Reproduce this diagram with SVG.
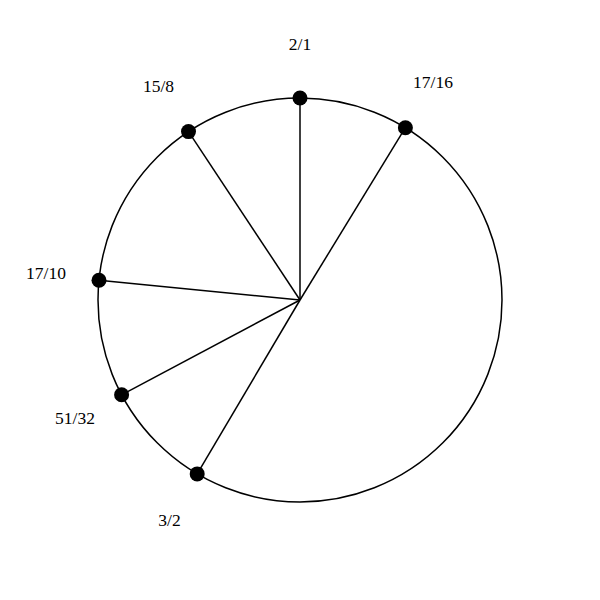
<svg xmlns="http://www.w3.org/2000/svg" width="600" height="600" viewBox="0 0 600 600">
<style>
.ln{stroke:#000;stroke-width:1.5;fill:none}
.dot{fill:#000}
.lb{font-family:"Liberation Serif",serif;font-size:17.5px;text-anchor:middle;fill:#000}
</style>
<rect width="600" height="600" fill="#fff"/>
<circle cx="300" cy="300" r="202" class="ln"/>
<g id="connectors">
<line x1="300" y1="300" x2="300" y2="98" class="ln"/>
<line x1="300" y1="300" x2="405.4" y2="127.7" class="ln"/>
<line x1="300" y1="300" x2="188.5" y2="131.6" class="ln"/>
<line x1="300" y1="300" x2="99" y2="280.3" class="ln"/>
<line x1="300" y1="300" x2="121.6" y2="394.8" class="ln"/>
<line x1="300" y1="300" x2="197.2" y2="473.9" class="ln"/>
</g>
<g id="n21"><circle cx="300" cy="98" r="7.5" class="dot"/><text x="300" y="50" class="lb">2/1</text></g>
<g id="n1716"><circle cx="405.4" cy="127.7" r="7.5" class="dot"/><text x="433" y="88" class="lb">17/16</text></g>
<g id="n158"><circle cx="188.5" cy="131.6" r="7.5" class="dot"/><text x="158.5" y="92" class="lb">15/8</text></g>
<g id="n1710"><circle cx="99" cy="280.3" r="7.5" class="dot"/><text x="46" y="279" class="lb">17/10</text></g>
<g id="n5132"><circle cx="121.6" cy="394.8" r="7.5" class="dot"/><text x="75" y="424" class="lb">51/32</text></g>
<g id="n32"><circle cx="197.2" cy="473.9" r="7.5" class="dot"/><text x="169.5" y="526" class="lb">3/2</text></g>
</svg>
